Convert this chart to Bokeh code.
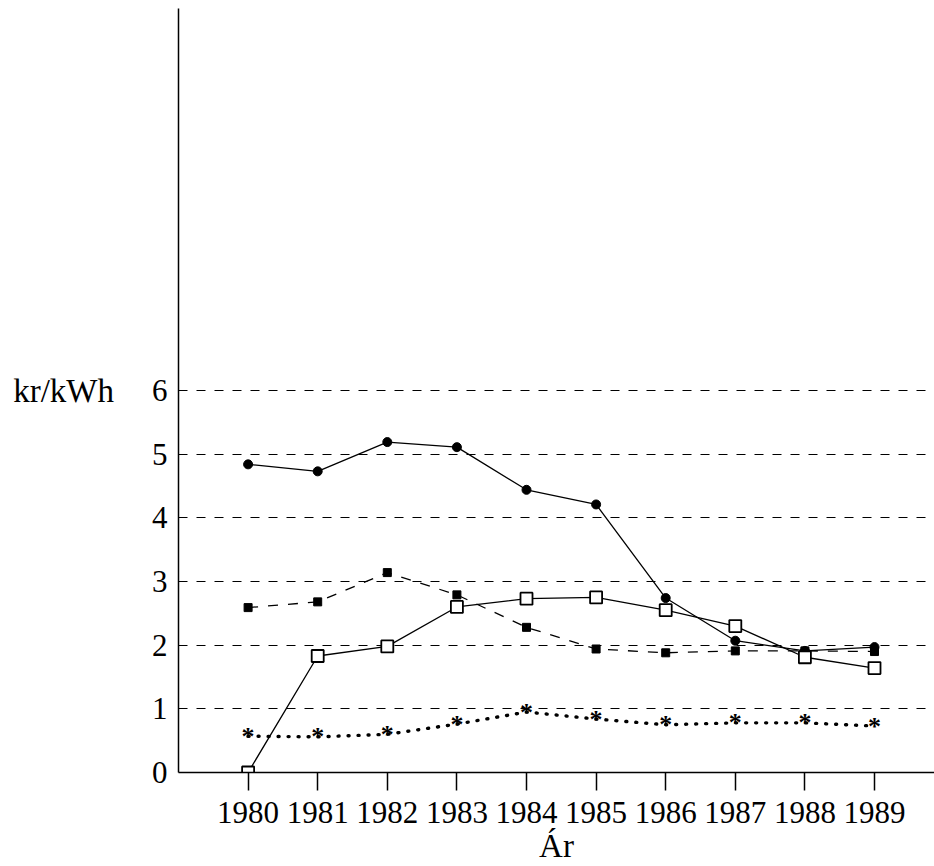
from bokeh.plotting import figure
from bokeh.models import FixedTicker, Range1d, Title
from bokeh.core.properties import value
from bokeh.embed import file_html
from bokeh.resources import INLINE

years = [1980, 1981, 1982, 1983, 1984, 1985, 1986, 1987, 1988, 1989]
series_circle = [4.84, 4.73, 5.19, 5.11, 4.44, 4.21, 2.74, 2.07, 1.91, 1.97]
series_fsquare = [2.59, 2.68, 3.14, 2.79, 2.28, 1.94, 1.88, 1.91, 1.91, 1.90]
series_osquare = [0.0, 1.83, 1.98, 2.60, 2.73, 2.75, 2.55, 2.30, 1.81, 1.64]
series_star = [0.57, 0.56, 0.60, 0.76, 0.95, 0.84, 0.75, 0.78, 0.78, 0.73]
y_ticks = [0, 1, 2, 3, 4, 5, 6]
y_label = "kr/kWh"
x_label = "Ár"

FONT = "Liberation Serif"

p = figure(width=934, height=866, output_backend="svg", toolbar_location=None,
           x_range=Range1d(1979, 1979 + 756 / 69.6), y_range=Range1d(0, 12),
           min_border_left=178, min_border_top=8, min_border_right=0,
           min_border_bottom=94)
p.outline_line_color = None
p.background_fill_color = "white"
p.border_fill_color = "white"

# axes
p.xaxis.ticker = FixedTicker(ticks=years)
p.yaxis.ticker = FixedTicker(ticks=y_ticks)
for ax in (p.xaxis[0], p.yaxis[0]):
    ax.axis_line_color = "black"
    ax.axis_line_width = 1.5
    ax.major_label_text_font = FONT
    ax.major_label_text_font_size = "31px"
    ax.major_label_text_color = "black"
    ax.minor_tick_line_color = None
p.xaxis.major_tick_out = 18
p.xaxis.major_tick_in = 0
p.xaxis.major_tick_line_width = 1.5
p.xaxis.major_tick_line_color = "black"
p.xaxis.major_label_standoff = 11
p.yaxis.major_tick_out = 0
p.yaxis.major_tick_in = 0
p.yaxis.major_label_standoff = 11

p.yaxis.axis_label = y_label
p.yaxis.axis_label_orientation = "horizontal"
p.yaxis.axis_label_text_font = FONT
p.yaxis.axis_label_text_font_size = "33px"
p.yaxis.axis_label_text_font_style = "normal"
p.yaxis.axis_label_text_color = "black"
p.yaxis.axis_label_standoff = 35

# x label as a title below the axis
p.add_layout(Title(text=x_label, align="center", offset=3, standoff=0,
                   text_font=FONT, text_font_size="33px", text_font_style="normal",
                   text_color="black"), "below")

# grid
p.xgrid.grid_line_color = None
p.ygrid.ticker = FixedTicker(ticks=y_ticks[1:])
p.ygrid.grid_line_color = "black"
p.ygrid.grid_line_width = 1.2
p.ygrid.grid_line_dash = "9 9"

# series: filled circles, solid line
p.line(years, series_circle, line_color="black", line_width=1.3)
p.scatter(years, series_circle, marker="circle", size=9, fill_color="black", line_color="black")

# series: filled squares, dashed line
p.line(years, series_fsquare, line_color="black", line_width=1.3, line_dash="10 10")
p.scatter(years, series_fsquare, marker="square", size=8, fill_color="black", line_color="black")

# series: open squares, solid line
p.line(years, series_osquare, line_color="black", line_width=1.3)
p.scatter(years, series_osquare, marker="square", size=12, fill_color="white",
          line_color="black", line_width=1.8)

# series: stars, dotted line
p.line(years, series_star, line_color="black", line_width=3.4, line_dash="1 9", line_cap="round")
p.text(years, series_star, text=value("*"), text_font=value(FONT), text_font_size="26px",
       text_font_style="bold", text_align="center", text_baseline="middle", text_color="black")

open("out.html", "w").write(file_html(p, INLINE))
